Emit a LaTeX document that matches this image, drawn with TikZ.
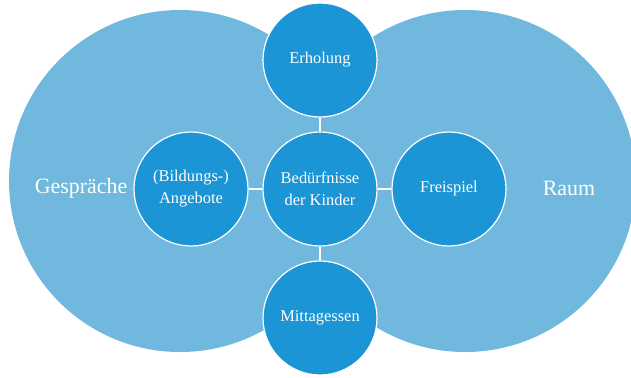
\documentclass[tikz,border=0pt]{standalone}
\usepackage{fontspec}
\setmainfont{Liberation Serif}
\usepackage{tikz}
\definecolor{lightblue}{HTML}{70B8DE}
\definecolor{midblue}{HTML}{1B95D5}
\tikzstyle{area}=[circle, fill=lightblue, inner sep=0pt, minimum size=342bp]
\tikzstyle{need}=[circle, draw=white, line width=1.2bp, fill=midblue, text=white, inner sep=0pt, minimum size=114bp, align=center, font=\fontsize{16.5}{22}\selectfont]
\tikzstyle{arealabel}=[text=white, font=\fontsize{22}{24}\selectfont]
\tikzstyle{link}=[draw=white, line width=1.2bp]

\begin{document}
\begin{tikzpicture}[x=1bp, y=-1bp]
        \useasboundingbox (0, 0) rectangle (631, 377);
        \node[area] (left) at (180, 181) {};
        \node[area] (right) at (465, 181) {};
        \node[arealabel] (talk) at (81, 188) {Gespräche};
        \node[arealabel] (room) at (569, 188) {Raum};
        \node[need] (kids) at (320, 189) {Bedürfnisse\\der Kinder};
        \node[need] (rest) at (320, 60) {Erholung};
        \node[need] (offer) at (191, 189) {(Bildungs-)\\Angebote};
        \node[need] (play) at (449, 189) {Freispiel};
        \node[need] (lunch) at (320, 318) {Mittagessen};
        \draw[link] (kids.north) -- (rest.south);
        \draw[link] (kids.west) -- (offer.east);
        \draw[link] (kids.east) -- (play.west);
        \draw[link] (kids.south) -- (lunch.north);
    \end{tikzpicture}
\end{document}
